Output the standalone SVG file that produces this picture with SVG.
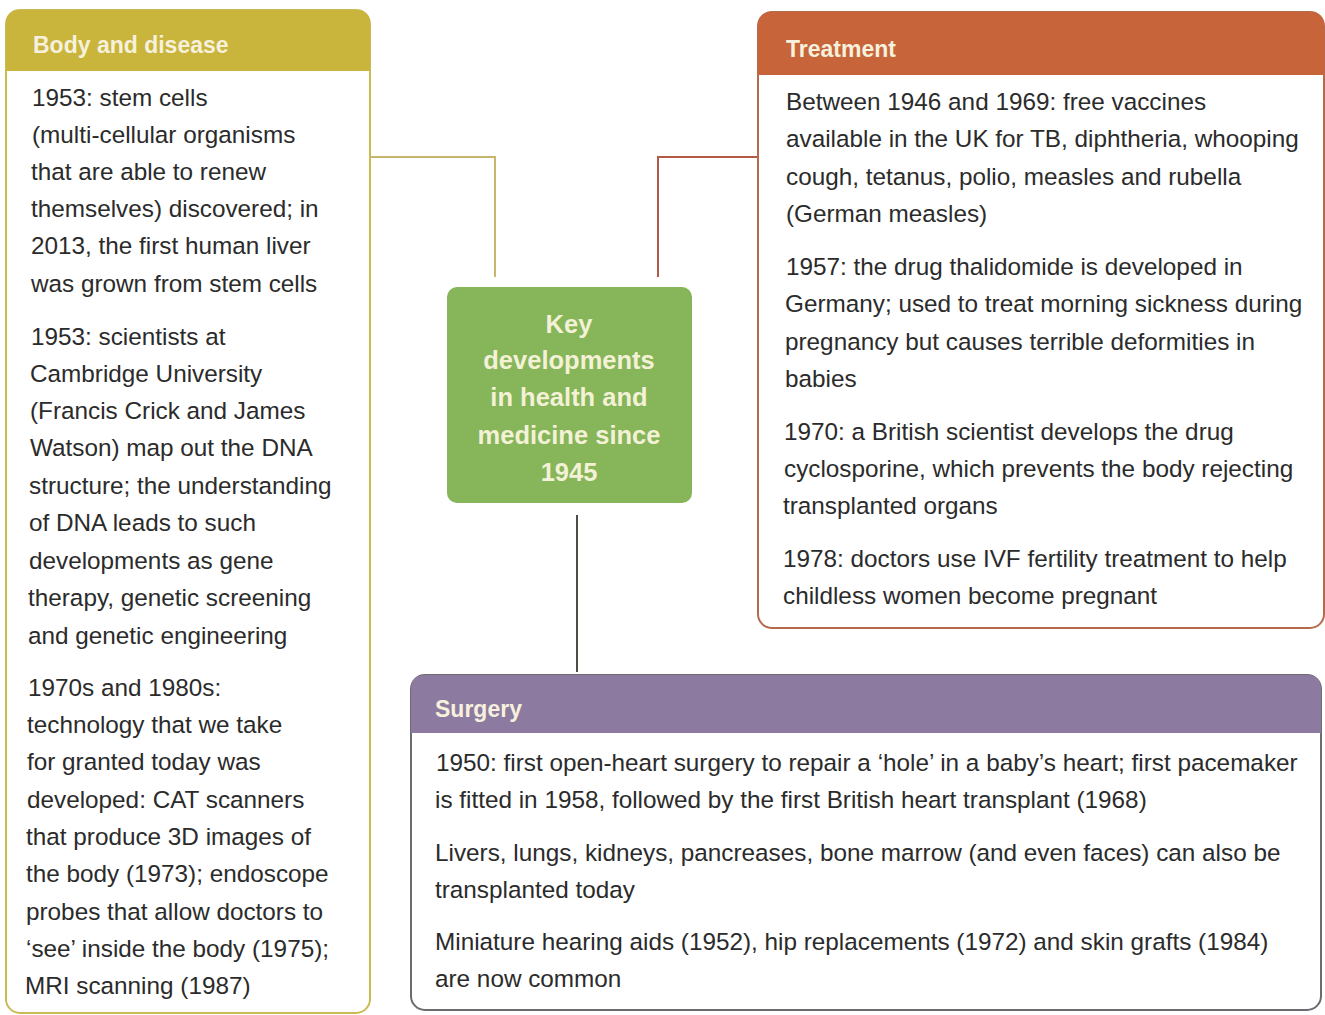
<svg xmlns="http://www.w3.org/2000/svg" width="1325" height="1015" viewBox="0 0 1325 1015">
<style>
.t{font-family:"Liberation Sans",Arial,sans-serif;font-size:24.3px;fill:#2b2b2b}
.h{font-family:"Liberation Sans",Arial,sans-serif;font-size:23px;font-weight:bold;fill:#f6f1dc}
.c{font-family:"Liberation Sans",Arial,sans-serif;font-size:25.5px;font-weight:bold;fill:#f3f1d6;text-anchor:middle}
.conn{fill:none;stroke-width:2}
</style>
<rect width="1325" height="1015" fill="#ffffff"/>
<g id="connectors">
<polyline class="conn" stroke="#c8b56e" points="370,157 495,157 495,277"/>
<polyline class="conn" stroke="#b35a45" points="760,157 658,157 658,277"/>
<polyline class="conn" stroke="#4a4f45" points="577,515 577,672"/>
</g>
<g id="body-disease">
<rect x="6" y="10" width="364" height="1003" rx="14" fill="#ffffff" stroke="#c9bc55" stroke-width="2"/>
<path d="M6,71 V24 Q6,10 20,10 H356 Q370,10 370,24 V71 Z" fill="#c9b43c"/>
<text class="h" x="33" y="53">Body and disease</text>
<text class="t" x="32" y="106">1953: stem cells</text>
<text class="t" x="32" y="143">(multi-cellular organisms</text>
<text class="t" x="31" y="180">that are able to renew</text>
<text class="t" x="31" y="217">themselves) discovered; in</text>
<text class="t" x="31" y="254">2013, the first human liver</text>
<text class="t" x="31" y="292">was grown from stem cells</text>
<text class="t" x="31" y="345">1953: scientists at</text>
<text class="t" x="30" y="382">Cambridge University</text>
<text class="t" x="30" y="419">(Francis Crick and James</text>
<text class="t" x="30" y="456">Watson) map out the DNA</text>
<text class="t" x="29" y="494">structure; the understanding</text>
<text class="t" x="29" y="531">of DNA leads to such</text>
<text class="t" x="29" y="569">developments as gene</text>
<text class="t" x="28" y="606">therapy, genetic screening</text>
<text class="t" x="28" y="644">and genetic engineering</text>
<text class="t" x="28" y="696">1970s and 1980s:</text>
<text class="t" x="27" y="733">technology that we take</text>
<text class="t" x="27" y="770">for granted today was</text>
<text class="t" x="27" y="808">developed: CAT scanners</text>
<text class="t" x="26" y="845">that produce 3D images of</text>
<text class="t" x="26" y="882">the body (1973); endoscope</text>
<text class="t" x="26" y="920">probes that allow doctors to</text>
<text class="t" x="26" y="957">‘see’ inside the body (1975);</text>
<text class="t" x="25" y="994">MRI scanning (1987)</text>
</g>
<g id="treatment">
<rect x="758" y="12" width="566" height="616" rx="14" fill="#ffffff" stroke="#b56a4c" stroke-width="2"/>
<path d="M758,75 V26 Q758,12 772,12 H1310 Q1324,12 1324,26 V75 Z" fill="#c8643a"/>
<text class="h" x="786" y="57">Treatment</text>
<text class="t" x="786" y="110">Between 1946 and 1969: free vaccines</text>
<text class="t" x="786" y="147">available in the UK for TB, diphtheria, whooping</text>
<text class="t" x="786" y="185">cough, tetanus, polio, measles and rubella</text>
<text class="t" x="786" y="222">(German measles)</text>
<text class="t" x="786" y="275">1957: the drug thalidomide is developed in</text>
<text class="t" x="785" y="312">Germany; used to treat morning sickness during</text>
<text class="t" x="785" y="350">pregnancy but causes terrible deformities in</text>
<text class="t" x="785" y="387">babies</text>
<text class="t" x="784" y="440">1970: a British scientist develops the drug</text>
<text class="t" x="784" y="477">cyclosporine, which prevents the body rejecting</text>
<text class="t" x="783" y="514">transplanted organs</text>
<text class="t" x="783" y="567">1978: doctors use IVF fertility treatment to help</text>
<text class="t" x="783" y="604">childless women become pregnant</text>
</g>
<g id="surgery">
<rect x="411" y="675" width="910" height="335" rx="14" fill="#ffffff" stroke="#6d6a70" stroke-width="2"/>
<path d="M411,733 V689 Q411,675 425,675 H1307 Q1321,675 1321,689 V733 Z" fill="#8c7aa0"/>
<text class="h" x="435" y="717">Surgery</text>
<text class="t" x="436" y="771">1950: first open-heart surgery to repair a ‘hole’ in a baby’s heart; first pacemaker</text>
<text class="t" x="435" y="808">is fitted in 1958, followed by the first British heart transplant (1968)</text>
<text class="t" x="435" y="861">Livers, lungs, kidneys, pancreases, bone marrow (and even faces) can also be</text>
<text class="t" x="435" y="898">transplanted today</text>
<text class="t" x="435" y="950">Miniature hearing aids (1952), hip replacements (1972) and skin grafts (1984)</text>
<text class="t" x="435" y="987">are now common</text>
</g>
<g id="center">
<rect x="447" y="287" width="245" height="216" rx="10" fill="#86b55a"/>
<text class="c" x="569" y="333">Key</text>
<text class="c" x="569" y="369">developments</text>
<text class="c" x="569" y="406">in health and</text>
<text class="c" x="569" y="444">medicine since</text>
<text class="c" x="569" y="481">1945</text>
</g>
</svg>
